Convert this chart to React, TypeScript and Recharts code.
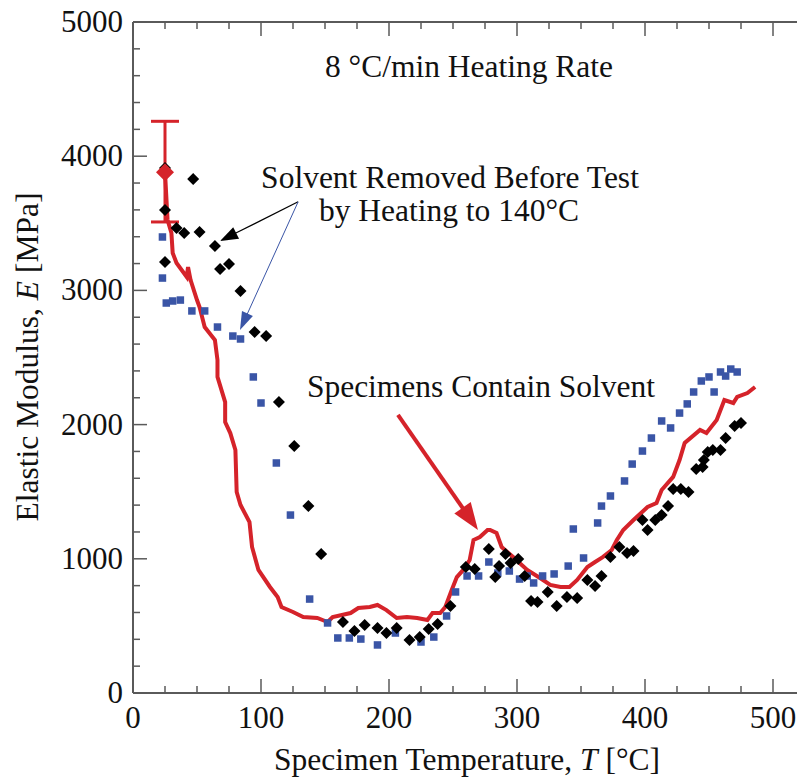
import React from 'react';
import {
  ComposedChart,
  Line,
  Scatter,
  XAxis,
  YAxis,
  ErrorBar,
  ReferenceLine,
} from 'recharts';

// Specimens contain solvent (red curve)
const solventT = [25, 27, 30, 31, 34, 42, 43, 45, 50, 52, 56, 64, 66, 66, 72, 72, 76, 80, 81, 84, 91, 93, 98, 107, 113, 116, 125, 133, 144, 152, 156, 170, 176, 185, 191, 198, 206, 214, 222, 230, 234, 240, 244, 249, 253, 258, 263, 266, 271, 277, 279, 284, 288, 297, 302, 308, 318, 326, 334, 341, 347, 355, 361, 367, 374, 378, 383, 391, 402, 409, 413, 422, 427, 431, 443, 448, 456, 462, 469, 472, 480, 486];
const solventE = [3882, 3525, 3428, 3279, 3204, 3100, 3174, 3077, 2928, 2876, 2727, 2630, 2481, 2355, 2168, 2019, 1937, 1811, 1498, 1401, 1274, 1088, 917, 790, 715, 641, 604, 566, 559, 529, 566, 596, 633, 641, 656, 618, 559, 566, 559, 544, 596, 596, 641, 768, 864, 917, 991, 1140, 1162, 1215, 1215, 1192, 1088, 1013, 969, 917, 857, 805, 790, 790, 842, 939, 976, 1013, 1066, 1140, 1215, 1289, 1386, 1416, 1513, 1610, 1736, 1863, 1960, 1937, 2034, 2183, 2161, 2206, 2235, 2280];

// Room temperature mean with scatter band
const meanT = [25];
const meanE = [3880];
const meanErr = [[370, 380]];

// Solvent removed, test 1 (black diamonds)
const blackT = [25, 25, 25, 34, 40, 47, 52, 64, 68, 75, 84, 95, 104, 114, 126, 137, 147, 164, 173, 181, 191, 198, 206, 216, 224, 231, 238, 248, 260, 267, 278, 283, 286, 291, 295, 301, 306, 311, 316, 324, 331, 339, 347, 355, 361, 366, 373, 380, 386, 391, 398, 402, 408, 413, 418, 422, 428, 434, 440, 445, 446, 449, 453, 459, 463, 470, 475];
const blackE = [3912, 3599, 3212, 3465, 3428, 3830, 3435, 3331, 3159, 3197, 2996, 2690, 2660, 2168, 1841, 1393, 1036, 529, 462, 507, 484, 447, 484, 395, 417, 477, 514, 648, 939, 924, 1073, 864, 946, 1036, 969, 999, 872, 686, 678, 753, 648, 715, 708, 842, 797, 872, 1013, 1088, 1043, 1058, 1289, 1215, 1289, 1326, 1393, 1520, 1520, 1498, 1669, 1684, 1736, 1796, 1811, 1811, 1900, 1990, 2012];

// Solvent removed, test 2 (blue squares)
const blueT = [23, 23, 26, 31, 37, 46, 56, 66, 78, 84, 94, 100, 112, 123, 138, 152, 160, 169, 178, 191, 205, 225, 235, 245, 252, 261, 270, 278, 285, 294, 302, 308, 313, 320, 329, 340, 344, 352, 363, 366, 373, 384, 390, 398, 405, 413, 420, 427, 433, 438, 444, 450, 454, 459, 463, 467, 472];
const blueE = [3398, 3092, 2906, 2921, 2928, 2847, 2847, 2727, 2660, 2638, 2355, 2161, 1714, 1326, 700, 522, 410, 410, 402, 358, 447, 380, 417, 574, 753, 872, 872, 976, 894, 909, 849, 872, 820, 872, 887, 946, 1222, 1006, 1267, 1393, 1468, 1580, 1706, 1803, 1900, 2027, 1975, 2086, 2154, 2243, 2325, 2355, 2243, 2392, 2362, 2414, 2392];

const xTicks = Array.from({ length: 21 }, (_, i) => i * 25);
const yTicks = Array.from({ length: 26 }, (_, i) => i * 200);

const RED = '#d5232a';
const BLUE = '#3a55a6';
const AXIS = '#5a5a5a';
const FONT = '"Liberation Serif", "Times New Roman", serif';

const zip = (ts: number[], es: number[]) => ts.map((t, i) => ({ t, e: es[i] }));
const solventData = zip(solventT, solventE);
const blackData = zip(blackT, blackE);
const blueData = zip(blueT, blueE);
const meanData = meanT.map((t, i) => ({ t, e: meanE[i], err: meanErr[i] }));

const BottomTick = (props: any) => {
  const { x, y, payload } = props;
  const major = payload.value % 100 === 0;
  return (
    <g>
      <line x1={x} y1={y} x2={x} y2={y - (major ? 14 : 7)} stroke={AXIS} strokeWidth={1.5} />
      {major && (
        <text x={x} y={y + 35} textAnchor="middle" fontSize={31} fontFamily={FONT} fill="#111">
          {payload.value}
        </text>
      )}
    </g>
  );
};

const TopTick = (props: any) => {
  const { x, y, payload } = props;
  const major = payload.value % 100 === 0;
  return <line x1={x} y1={y} x2={x} y2={y + (major ? 14 : 7)} stroke={AXIS} strokeWidth={1.5} />;
};

const LeftTick = (props: any) => {
  const { x, y, payload } = props;
  const major = payload.value % 1000 === 0;
  return (
    <g>
      <line x1={x} y1={y} x2={x + (major ? 14 : 7)} y2={y} stroke={AXIS} strokeWidth={1.5} />
      {major && (
        <text x={x - 10} y={y + 10} textAnchor="end" fontSize={31} fontFamily={FONT} fill="#111">
          {payload.value}
        </text>
      )}
    </g>
  );
};

const diamond = (half: number, fill: string) => (props: any) => {
  const { cx, cy } = props;
  return (
    <polygon
      points={`${cx},${cy - half} ${cx + half},${cy} ${cx},${cy + half} ${cx - half},${cy}`}
      fill={fill}
    />
  );
};

const square = (size: number, fill: string) => (props: any) => {
  const { cx, cy } = props;
  return <rect x={cx - size / 2} y={cy - size / 2} width={size} height={size} fill={fill} />;
};

const arrow = (color: string, lw: number, headLen: number, headW: number) => (p: any) => {
  const { x1, y1, x2, y2 } = p;
  const len = Math.hypot(x2 - x1, y2 - y1) || 1;
  const ux = (x2 - x1) / len;
  const uy = (y2 - y1) / len;
  const bx = x2 - ux * headLen;
  const by = y2 - uy * headLen;
  const px = -uy * headW / 2;
  const py = ux * headW / 2;
  return (
    <g>
      <line x1={x1} y1={y1} x2={bx + ux * 2} y2={by + uy * 2} stroke={color} strokeWidth={lw} />
      <polygon points={`${x2},${y2} ${bx + px},${by + py} ${bx - px},${by - py}`} fill={color} />
    </g>
  );
};

export default function App() {
  const txt = { fontFamily: FONT, fontSize: 31.5, fill: '#111' } as const;
  return (
    <div style={{ position: 'absolute', left: 0, top: 0, width: 797, height: 780, overflow: 'hidden', background: '#fff' }}>
      <ComposedChart
        width={820}
        height={780}
        margin={{ top: 21, right: 15, bottom: 86, left: 132 }}
      >
        <XAxis
          type="number"
          dataKey="t"
          domain={[0, 525]}
          ticks={xTicks}
          interval={0}
          tickSize={0}
          tickMargin={0}
          height={1}
          tick={<BottomTick />}
          axisLine={{ stroke: AXIS, strokeWidth: 2 }}
          allowDataOverflow
        />
        <XAxis
          xAxisId="top"
          orientation="top"
          type="number"
          dataKey="t"
          domain={[0, 525]}
          ticks={xTicks}
          interval={0}
          tickSize={0}
          tickMargin={0}
          height={1}
          tick={<TopTick />}
          axisLine={{ stroke: AXIS, strokeWidth: 2 }}
          allowDataOverflow
        />
        <YAxis
          type="number"
          dataKey="e"
          domain={[0, 5000]}
          ticks={yTicks}
          interval={0}
          tickSize={0}
          tickMargin={0}
          width={1}
          tick={<LeftTick />}
          axisLine={{ stroke: AXIS, strokeWidth: 2 }}
          allowDataOverflow
        />
        <Line
          data={solventData}
          dataKey="e"
          type="linear"
          stroke={RED}
          strokeWidth={4}
          dot={false}
          isAnimationActive={false}
        />
        <Scatter data={blueData} dataKey="e" shape={square(7.5, BLUE)} isAnimationActive={false} />
        <Scatter data={blackData} dataKey="e" shape={diamond(6, '#000')} isAnimationActive={false} />
        <Scatter data={meanData} dataKey="e" shape={diamond(9, RED)} isAnimationActive={false}>
          <ErrorBar dataKey="err" direction="y" width={14} stroke={RED} strokeWidth={3} isAnimationActive={false} />
        </Scatter>
        <ReferenceLine
          segment={[{ x: 129, y: 3660 }, { x: 68, y: 3368 }]}
          shape={arrow('#000', 1.2, 18, 13)}
        />
        <ReferenceLine
          segment={[{ x: 129, y: 3660 }, { x: 83.6, y: 2705 }]}
          shape={arrow(BLUE, 1, 18, 12)}
        />
        <ReferenceLine
          segment={[{ x: 207, y: 2072 }, { x: 269.5, y: 1215 }]}
          shape={arrow(RED, 4, 27, 20)}
        />
      </ComposedChart>
      <svg width={797} height={780} style={{ position: 'absolute', left: 0, top: 0, pointerEvents: 'none' }}>
        <text x={469} y={77} textAnchor="middle" {...txt}>8 °C/min Heating Rate</text>
        <text x={450} y={188} textAnchor="middle" {...txt}>Solvent Removed Before Test</text>
        <text x={449} y={221} textAnchor="middle" {...txt}>by Heating to 140°C</text>
        <text x={481} y={397} textAnchor="middle" {...txt}>Specimens Contain Solvent</text>
        <text x={467} y={770} textAnchor="middle" {...txt}>
          Specimen Temperature, <tspan fontStyle="italic">T</tspan> [°C]
        </text>
        <text x={38} y={357} textAnchor="middle" transform="rotate(-90, 38, 357)" {...txt}>
          Elastic Modulus, <tspan fontStyle="italic">E</tspan> [MPa]
        </text>
      </svg>
    </div>
  );
}
